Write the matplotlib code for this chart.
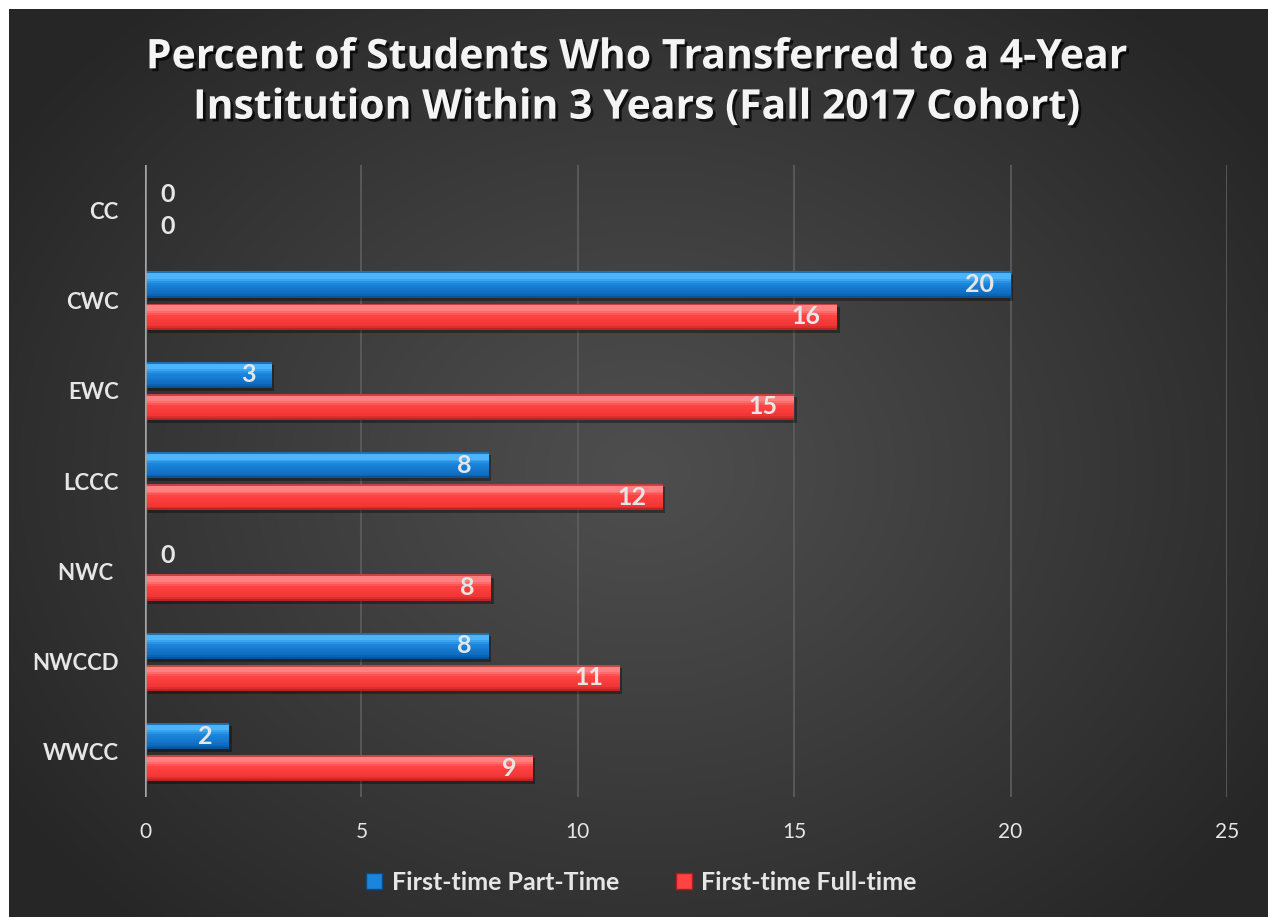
#!/usr/bin/env python
# -*- coding: utf-8 -*-
"""
transfer_rate_bar.py — 4年制转学率条形图（Fall 2017 Cohort）
"""

import numpy as np
import matplotlib
matplotlib.use('Agg')
import matplotlib.pyplot as plt
import matplotlib.patheffects as pe
from matplotlib.patches import Rectangle
from matplotlib.lines import Line2D

# ---------- 数据 ----------
colleges = ['CC', 'CWC', 'EWC', 'LCCC', 'NWC ', 'NWCCD', 'WWCC']
part_time = [0, 20, 2.93, 7.94, 0, 7.94, 1.94]
full_time = [0, 16, 15, 11.96, 8, 10.97, 8.96]
series_names = ['First-time Part-Time', 'First-time Full-time']
x_ticks = [0, 5, 10, 15, 20, 25]

TITLE = ('Percent of Students Who Transferred to a 4-Year\n'
         'Institution Within 3 Years (Fall 2017 Cohort)')

# 配色 — 深色背景 + 蓝红立体条
BLUE = {'top': '#4cb4f8', 'mid': '#1b85dc', 'low': '#0e6cc0', 'edge': '#084c8c'}
RED = {'top': '#ff8080', 'mid': '#ff4242', 'low': '#f03535', 'edge': '#a82020'}
TEXT = '#e6e6e6'
FONT = ['Lato', 'DejaVu Sans']
TITLE_FONT = ['Open Sans', 'DejaVu Sans']

W, H, DPI = 1268, 917, 100


def draw_background(fig):
    """径向渐变深灰背景，左上留白边"""
    bg = fig.add_axes([0, 0, 1, 1], zorder=-10)
    bg.axis('off')
    yy, xx = np.mgrid[0:H, 0:W]
    r = np.sqrt(((xx - 640) / 760.0) ** 2 + ((yy - 470) / 620.0) ** 2)
    r = np.clip(r, 0, 1)
    val = (0x4e - (0x4e - 0x26) * r ** 1.1) / 255.0
    img = np.dstack([val, val, val])
    bg.imshow(img, extent=(0, W, H, 0), interpolation='bilinear', aspect='auto')
    # 白边
    bg.add_patch(Rectangle((0, 0), W, 9, color='white', lw=0))
    bg.add_patch(Rectangle((0, 0), 9, H, color='white', lw=0))
    bg.set_xlim(0, W)
    bg.set_ylim(H, 0)


def bevel_bars(ax, y, values, height, palette, zorder=3):
    """用分层细条模拟 Excel 的立体斜面效果"""
    # 阴影
    ax.barh(y + height * 0.12, values, height=height, left=0.06,
            color='black', alpha=0.35, zorder=zorder - 1, lw=0)
    # 纵向分层：上高光 -> 主体 -> 下暗边
    stops = [(0.00, palette['edge']), (0.10, palette['top']),
             (0.25, palette['top']), (0.45, palette['mid']),
             (0.85, palette['low']), (1.00, palette['edge'])]
    n = 14
    for k in range(n):
        tm = (k + 0.5) / n
        for (a, ca), (b, cb) in zip(stops[:-1], stops[1:]):
            if a <= tm <= b:
                f = (tm - a) / (b - a)
                c1 = np.array(matplotlib.colors.to_rgb(ca))
                c2 = np.array(matplotlib.colors.to_rgb(cb))
                col = c1 + (c2 - c1) * f
                break
        # y 轴已反转，t=0 为上沿
        yc = y - height / 2 + height * tm
        ax.barh(yc, values, height=height / n * 1.05, color=col,
                zorder=zorder, lw=0)


def add_labels(ax, y, values):
    """数据标签：非零在条内末端，零值放在轴右侧"""
    for yi, v in zip(y, values):
        inside = v > 0
        ax.annotate(f'{v:.0f}', (v, yi), xytext=(-12 if inside else 11, 0),
                    textcoords='offset points',
                    ha='right' if inside else 'left', va='center',
                    fontsize=18, fontweight='bold', color=TEXT,
                    family=FONT, zorder=6)


def main():
    fig = plt.figure(figsize=(W / DPI, H / DPI), dpi=DPI)
    fig.patch.set_facecolor('white')
    draw_background(fig)

    ax = fig.add_axes([145 / W, 1 - 797 / H, 1082 / W, 632 / H])
    ax.set_facecolor('none')

    pos = np.arange(len(colleges))
    bar_h = 0.29
    bevel_bars(ax, pos - 0.175, part_time, bar_h, BLUE)
    bevel_bars(ax, pos + 0.18, full_time, bar_h, RED)
    add_labels(ax, pos - 0.175, part_time)
    add_labels(ax, pos + 0.18, full_time)

    ax.set_xlim(0, 25)
    ax.set_ylim(len(colleges) - 0.5, -0.5)
    ax.set_xticks(x_ticks)
    ax.set_xticklabels([str(t) for t in x_ticks], color=TEXT, fontsize=15,
                       family=FONT)
    ax.set_yticks(pos)
    ax.set_yticklabels(colleges, color=TEXT, fontsize=16, fontweight='bold',
                       family=FONT)
    ax.tick_params(axis='both', length=0)
    ax.tick_params(axis='x', pad=18)
    ax.tick_params(axis='y', pad=19)
    for s in ax.spines.values():
        s.set_visible(False)
    for t in x_ticks[1:]:
        ax.axvline(t, color='#5e5e5e', lw=1.2, zorder=1)
    ax.axvline(0, color='#a6a6a6', lw=1.8, zorder=5)

    # 标题
    fig.text(0.503, 1 - 83 / H, TITLE, ha='center', va='center',
             fontsize=29.5, fontweight='bold', color='#f4f4f4', family=TITLE_FONT,
             linespacing=1.3,
             path_effects=[pe.SimplePatchShadow(offset=(2, -2), alpha=0.7,
                                                shadow_rgbFace='black'),
                           pe.Normal()])

    # 图例
    handles = [Line2D([], [], marker='s', ls='none', markersize=12,
                      markerfacecolor=BLUE['mid'], markeredgecolor=BLUE['edge']),
               Line2D([], [], marker='s', ls='none', markersize=12,
                      markerfacecolor=RED['mid'], markeredgecolor=RED['edge'])]
    leg = fig.legend(handles, series_names, loc='center',
                     bbox_to_anchor=(0.505, 1 - 882 / H), ncol=2, frameon=False,
                     handlelength=0.8, handletextpad=0.3, columnspacing=2.2,
                     prop={'family': FONT, 'weight': 'bold', 'size': 18})
    for txt in leg.get_texts():
        txt.set_color(TEXT)

    fig.savefig('out.png', dpi=DPI)
    plt.close(fig)


if __name__ == '__main__':
    main()
